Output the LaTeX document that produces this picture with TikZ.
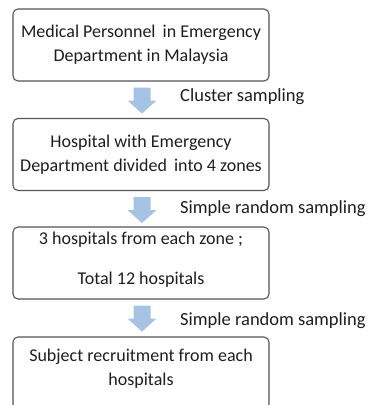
\documentclass[tikz,border=0pt]{standalone}
\usepackage{fontspec}
\setmainfont{Carlito}
\usetikzlibrary{calc}
\definecolor{boxline}{RGB}{85,85,85}
\definecolor{arrowfill}{RGB}{167,195,228}
\definecolor{textcol}{RGB}{30,30,30}
\tikzset{
  stagebox/.style={draw=boxline, line width=1.1pt, rounded corners=5pt,
    minimum width=256pt, minimum height=72pt, inner sep=0pt,
    align=center, text=textcol, font=\fontsize{18}{24}\selectfont},
  methodlabel/.style={anchor=base west, inner sep=0pt, text=textcol,
    font=\fontsize{18.5}{24}\selectfont},
}
% light blue block arrow hanging below the node given as argument
\newcommand\flowarrow[1]{%
  \fill[arrowfill] ($(#1.south)+(-7.5,6)$) -- ++(17,0) -- ++(0,13) -- ++(6,0)
    -- ++(-14.5,13) -- ++(-14.5,-13) -- ++(6,0) -- cycle;}
\begin{document}
\begin{tikzpicture}[x=1pt, y=-1pt]
  \useasboundingbox (0,0) rectangle (373,405);
  \clip (0,0) rectangle (373,405);

  \node[stagebox] (population) at (141,45)
    {Medical Personnel\, in Emergency\\Department in Malaysia};
  \node[stagebox] (zones) at (141,154.5)
    {Hospital with Emergency\\Department divided\, into 4 zones};
  \node[stagebox] (hospitals) at (141,263)
    {3 hospitals from each zone ;\\[16pt]Total 12 hospitals\rule[-10pt]{0pt}{0pt}};
  \node[stagebox] (subjects) at (141,373)
    {Subject recruitment from each\\hospitals\rule[-12pt]{0pt}{0pt}};

  \flowarrow{population}
  \flowarrow{zones}
  \flowarrow{hospitals}

  \node[methodlabel] (cluster) at (180,101) {Cluster sampling};
  \node[methodlabel] (random1) at (180,213) {Simple random sampling};
  \node[methodlabel] (random2) at (180,325) {Simple random sampling};
\end{tikzpicture}
\end{document}
